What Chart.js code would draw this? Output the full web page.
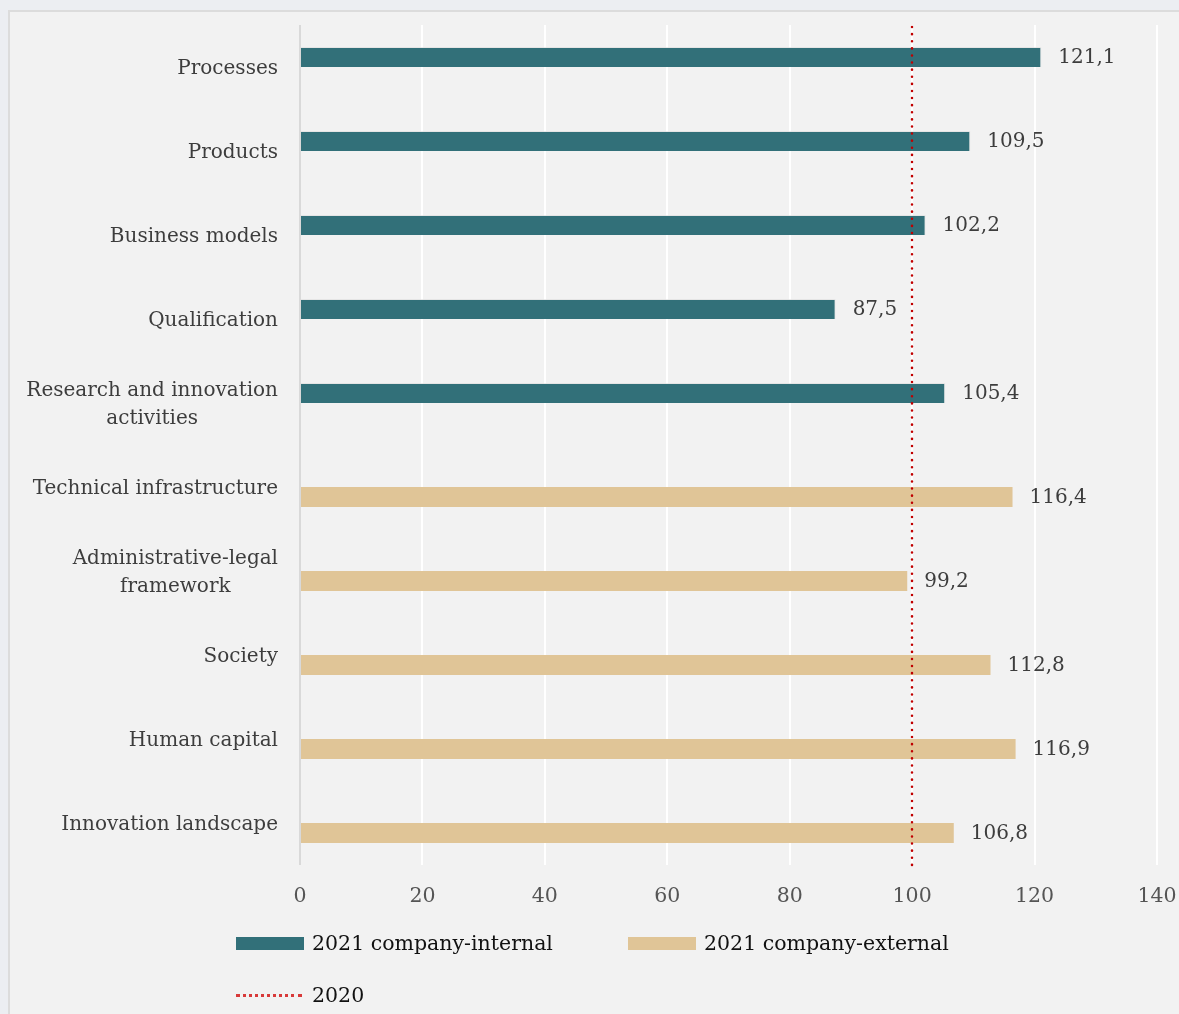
<!DOCTYPE html>
<html>
<head>
<meta charset="utf-8">
<script src="https://cdn.jsdelivr.net/npm/chart.js@4.4.1/dist/chart.umd.min.js"></script>
<style>
  html, body { margin:0; padding:0; background:#eceef2; width:1179px; height:1014px; overflow:hidden; }
  #card { position:absolute; left:8px; top:10px; width:1220px; height:1100px; background:#f2f2f2; border:2px solid #dcdcdc; box-sizing:border-box; }
  #wrap { position:absolute; left:0; top:0; width:1179px; height:1014px; }
  .lg { position:absolute; font-family:"DejaVu Serif", serif; font-size:20.5px; color:#111; white-space:nowrap; line-height:24px; }
  .sw { position:absolute; }
</style>
</head>
<body>
<div id="card"></div>
<div id="wrap"><canvas id="c"></canvas></div>
<div id="legend"></div>
<script>
const categories = [
  ["Processes"],
  ["Products"],
  ["Business models"],
  ["Qualification"],
  ["Research and innovation", "activities"],
  ["Technical infrastructure"],
  ["Administrative-legal", "framework"],
  ["Society"],
  ["Human capital"],
  ["Innovation landscape"]
];
const internal2021 = [121.1, 109.5, 102.2, 87.5, 105.4, null, null, null, null, null];
const external2021 = [null, null, null, null, null, 116.4, 99.2, 112.8, 116.9, 106.8];
const reference2020 = 100;
const xTicks = [0, 20, 40, 60, 80, 100, 120, 140];
const seriesNames = ["2021 company-internal", "2021 company-external", "2020"];

const FONT = '"DejaVu Serif", serif';
const FS = 20;
const COL_INT = '#327079';
const COL_EXT = '#e0c597';
const COL_REF = '#c00000';

const refLinePlugin = {
  id: 'refLine',
  afterDatasetsDraw(chart) {
    const xs = chart.scales.x, area = chart.chartArea, ctx = chart.ctx;
    const x = Math.round(xs.getPixelForValue(reference2020));
    ctx.save();
    ctx.strokeStyle = COL_REF;
    ctx.lineWidth = 2.5;
    ctx.lineCap = 'round';
    ctx.setLineDash([0.1, 7]);
    ctx.beginPath();
    ctx.moveTo(x, area.top + 2);
    ctx.lineTo(x, area.bottom);
    ctx.stroke();
    ctx.restore();
  }
};

const valueLabelPlugin = {
  id: 'valueLabels',
  afterDatasetsDraw(chart) {
    const ctx = chart.ctx;
    ctx.save();
    ctx.font = FS + 'px ' + FONT;
    ctx.fillStyle = '#3d3d3d';
    ctx.textAlign = 'left';
    ctx.textBaseline = 'middle';
    chart.data.datasets.forEach((ds, di) => {
      const meta = chart.getDatasetMeta(di);
      meta.data.forEach((el, i) => {
        const v = ds.data[i];
        if (v === null || v === undefined) return;
        ctx.fillText(v.toFixed(1).replace('.', ','), el.x + 17, el.y + 1);
      });
    });
    ctx.restore();
  }
};

const yLabelPlugin = {
  id: 'yLabels',
  afterDraw(chart) {
    const ys = chart.scales.y, ctx = chart.ctx;
    const right = ys.right - 22;
    const lh = 28;
    ctx.save();
    ctx.font = FS + 'px ' + FONT;
    ctx.fillStyle = '#3d3d3d';
    ctx.textAlign = 'center';
    ctx.textBaseline = 'middle';
    categories.forEach((lines, i) => {
      const y = ys.getPixelForTick(i) + 1.5;
      const w = Math.max(...lines.map(l => ctx.measureText(l).width));
      const cx = right - w / 2;
      const y0 = y - (lines.length - 1) * lh / 2;
      lines.forEach((l, k) => ctx.fillText(l, cx, y0 + k * lh));
    });
    ctx.restore();
  }
};

const chart = new Chart(document.getElementById('c'), {
  type: 'bar',
  data: {
    labels: categories,
    datasets: [
      { label: seriesNames[0], data: internal2021, backgroundColor: COL_INT, borderColor: 'rgba(220,220,220,0.6)', borderWidth: {top:1, bottom:0, left:0, right:1}, borderSkipped: false, categoryPercentage: 0.476, barPercentage: 1.0 },
      { label: seriesNames[1], data: external2021, backgroundColor: COL_EXT, borderWidth: 0, categoryPercentage: 0.476, barPercentage: 1.0 }
    ]
  },
  options: {
    indexAxis: 'y',
    responsive: true,
    maintainAspectRatio: false,
    animation: false,
    layout: { padding: { left: 0, right: 22, top: 25, bottom: 99 } },
    plugins: { legend: { display: false }, tooltip: { enabled: false } },
    scales: {
      x: {
        min: 0, max: 140,
        afterBuildTicks(scale) { scale.ticks = xTicks.map(v => ({ value: v })); },
        afterFit(scale) { scale.height = 50; scale.paddingLeft = 0; scale.paddingRight = 0; },
        grid: {
          color: ctx => (ctx.tick && ctx.tick.value === 0) ? '#d9d9d9' : '#ffffff',
          lineWidth: 2,
          drawTicks: false
        },
        border: { display: false },
        ticks: { color: '#555555', font: { family: FONT, size: 20.5 }, padding: 19 }
      },
      y: {
        afterFit(scale) { scale.width = 300; },
        grid: { display: false, drawTicks: false },
        border: { display: false },
        ticks: { display: false }
      }
    }
  },
  plugins: [refLinePlugin, valueLabelPlugin, yLabelPlugin]
});

// Legend built from the dataset definitions
const legend = document.getElementById('legend');
const items = [
  { name: seriesNames[0], kind: 'box', color: COL_INT, x: 236, y: 943 },
  { name: seriesNames[1], kind: 'box', color: COL_EXT, x: 628, y: 943 },
  { name: seriesNames[2], kind: 'dot', color: '#d83a3a', x: 236, y: 995 }
];
items.forEach(it => {
  const sw = document.createElement('div');
  sw.className = 'sw';
  if (it.kind === 'box') {
    sw.style.cssText = `left:${it.x}px;top:${it.y - 6}px;width:68px;height:13px;background:${it.color};`;
  } else {
    sw.style.cssText = `left:${it.x}px;top:${it.y - 1}px;width:66px;height:0;border-top:3px dotted ${it.color};`;
  }
  legend.appendChild(sw);
  const t = document.createElement('div');
  t.className = 'lg';
  t.textContent = it.name;
  t.style.left = (it.x + 76) + 'px';
  t.style.top = (it.y - 12) + 'px';
  legend.appendChild(t);
});
</script>
</body>
</html>
